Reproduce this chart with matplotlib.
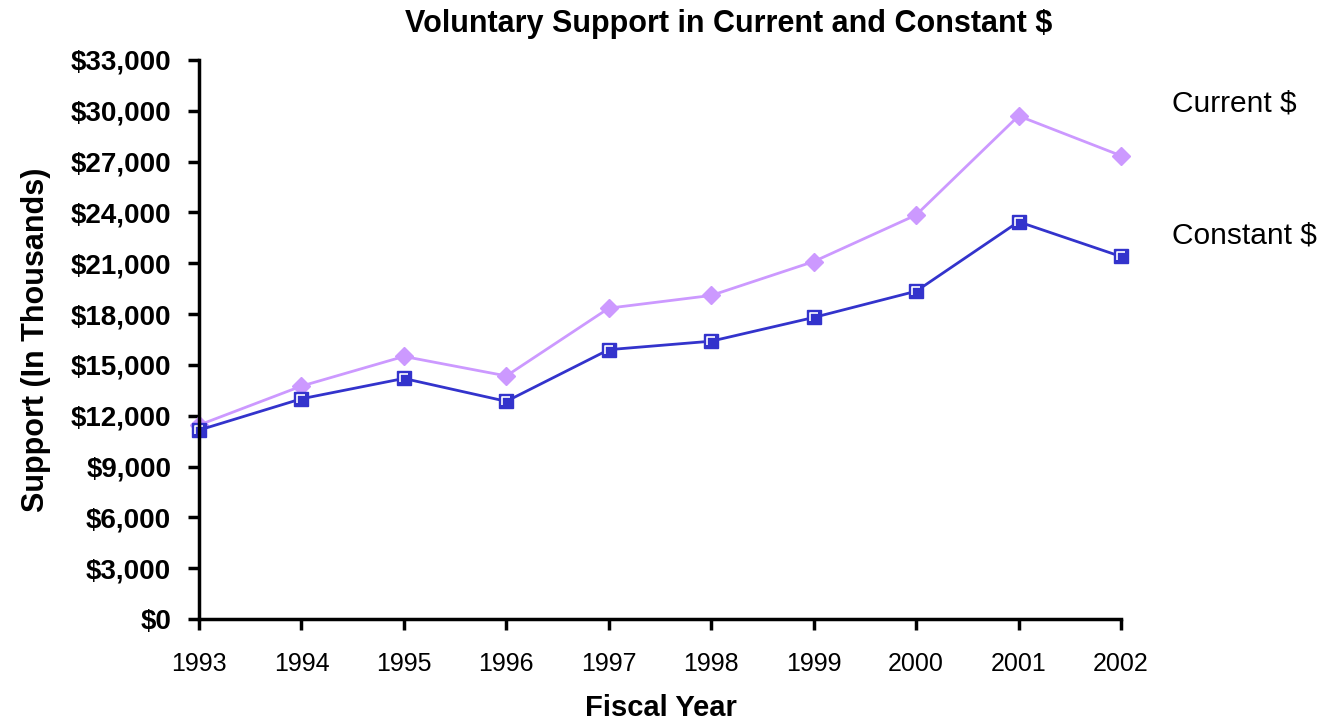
import matplotlib
matplotlib.use("Agg")
import matplotlib.pyplot as plt
from matplotlib.path import Path
from matplotlib.ticker import FuncFormatter

plt.rcParams['font.family'] = ['Liberation Sans', 'DejaVu Sans']

years = [1993, 1994, 1995, 1996, 1997, 1998, 1999, 2000, 2001, 2002]
current = [11450, 13750, 15500, 14350, 18350, 19100, 21100, 23850, 29700, 27350]
constant = [11150, 13000, 14200, 12850, 15900, 16400, 17800, 19350, 23450, 21400]
y_ticks = list(range(0, 33001, 3000))

fig = plt.figure(figsize=(13.34, 7.22), dpi=100)
ax = fig.add_axes([199 / 1334, 1 - 619 / 722, (1121 - 199) / 1334, (619 - 60) / 722])

ax.plot(years, current, color='#CC99FF', lw=2, marker='D', ms=9, mec='#CC99FF', clip_on=False)
ax.plot(years, constant, color='#3333CC', lw=2, marker='s', ms=10, mec='#3333CC', clip_on=False)
# white corner highlight on the square markers
corner = Path([(-0.6, -0.7), (-0.6, 0.6), (0.7, 0.6)], [Path.MOVETO, Path.LINETO, Path.LINETO])
ax.plot(years, constant, ls='none', marker=corner, ms=6, mec='white', mfc='none', mew=1.2, clip_on=False)

ax.set_xlim(1993, 2002)
ax.set_ylim(0, 33000)
ax.set_xticks(years)
ax.set_yticks(y_ticks)
ax.yaxis.set_major_formatter(FuncFormatter(lambda v, p: '${:,.0f}'.format(v)))

for s in ['top', 'right']:
    ax.spines[s].set_visible(False)
for s in ['left', 'bottom']:
    ax.spines[s].set_linewidth(2.5)
ax.tick_params(axis='both', direction='out', width=2.5, length=8)
ax.tick_params(axis='y', labelsize=20, pad=12)
ax.tick_params(axis='x', labelsize=18, pad=16)
for lab in ax.get_yticklabels():
    lab.set_fontweight('bold')

ax.set_ylabel('Support (In Thousands)', fontsize=22, fontweight='bold', labelpad=14)
fig.text(661 / 1334, 1 - 708 / 722, 'Fiscal Year', fontsize=21, fontweight='bold',
         ha='center', va='center')
fig.text(729 / 1334, 1 - 24 / 722, 'Voluntary Support in Current and Constant $',
         fontsize=22, fontweight='bold', ha='center', va='center')

fig.text(1172 / 1334, 1 - 104 / 722, 'Current $', fontsize=21.5, va='center')
fig.text(1172 / 1334, 1 - 235 / 722, 'Constant $', fontsize=21.5, va='center')

fig.savefig('out.png', dpi=100)
